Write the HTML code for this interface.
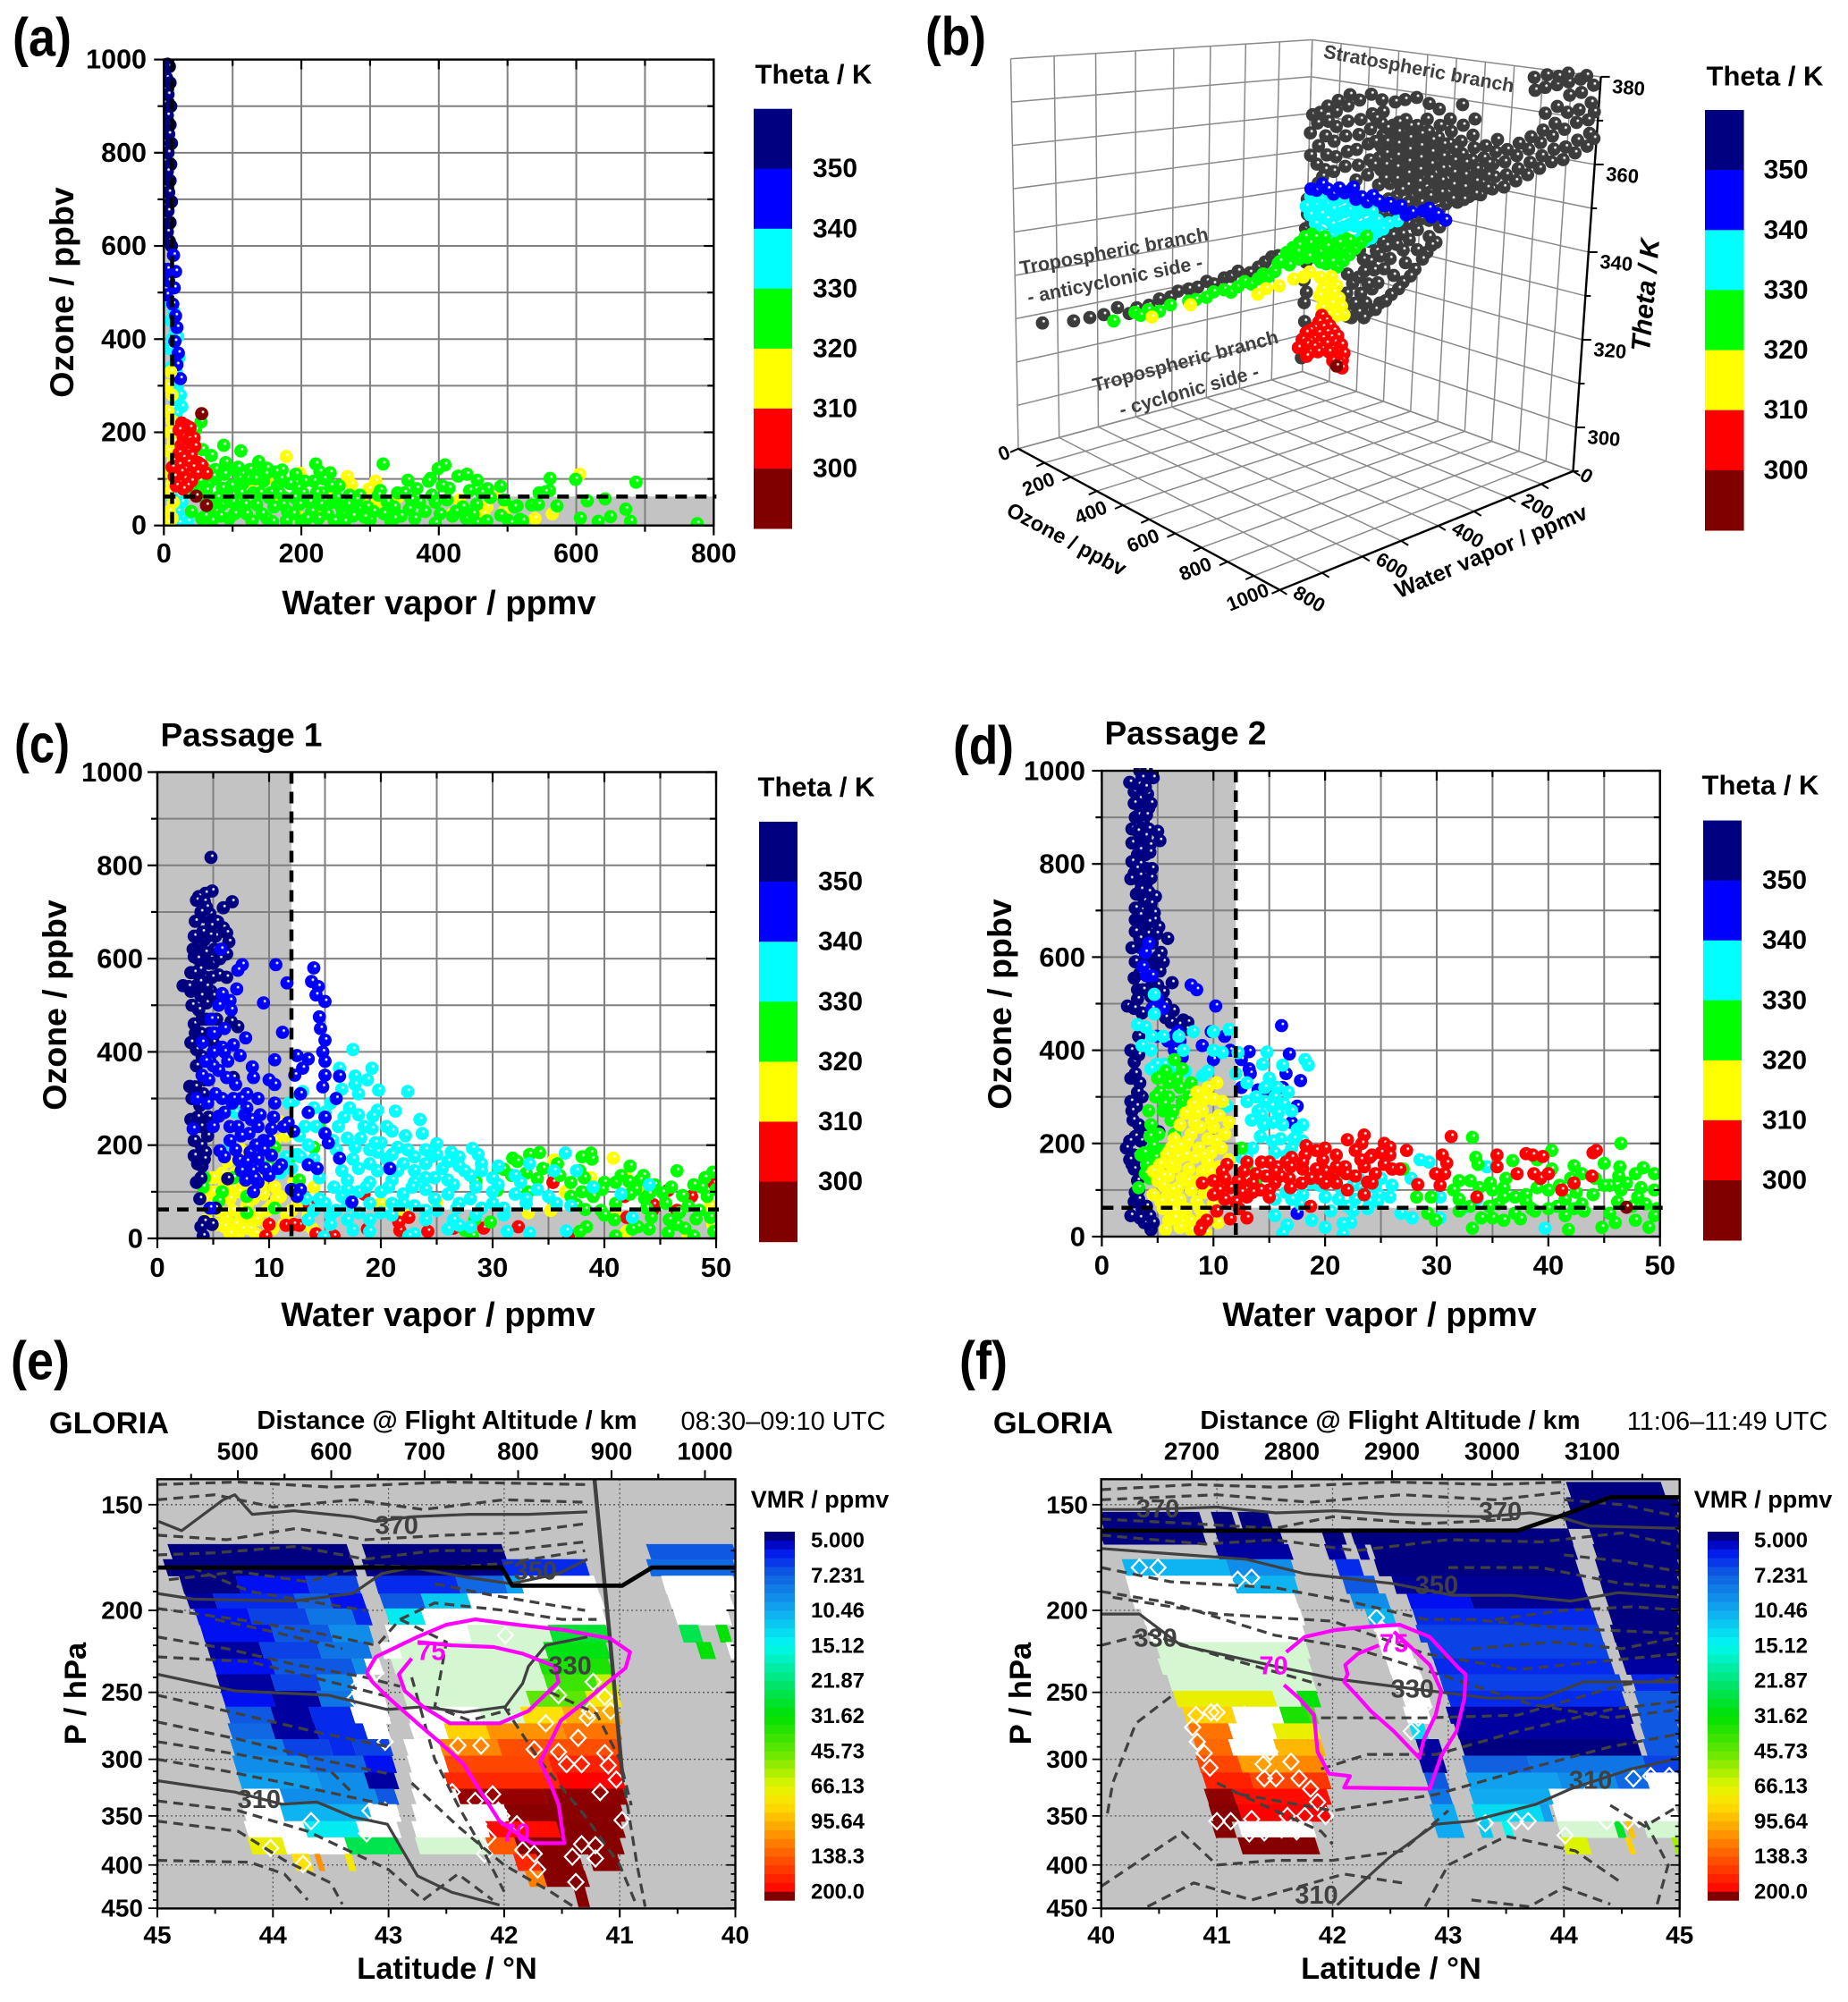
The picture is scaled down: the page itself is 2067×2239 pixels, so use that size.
<!DOCTYPE html>
<html lang="en">
<head>
<meta charset="utf-8">
<title>Ozone and water vapor tracer correlations and GLORIA cross sections</title>
<style>
html,body{margin:0;padding:0;background:#fff}
svg{display:block;font-family:"Liberation Sans",Arial,sans-serif}
text{fill:#000}
.b{font-weight:bold}
</style>
</head>
<body>
<svg id="figure" xmlns="http://www.w3.org/2000/svg" width="2067" height="2239" viewBox="0 0 2067 2239">
<defs id="defs"></defs>
<rect width="2067" height="2239" fill="#fff"/>
<g id="layers"></g>
<g text-anchor="middle" dominant-baseline="central">
<text class="b" x="47" y="42" font-size="60" textLength="66" lengthAdjust="spacingAndGlyphs">(a)</text>
<text class="b" x="1069" y="41" font-size="60" textLength="68" lengthAdjust="spacingAndGlyphs">(b)</text>
<text class="b" x="47" y="832" font-size="60" textLength="62" lengthAdjust="spacingAndGlyphs">(c)</text>
<text class="b" x="1100" y="834" font-size="60" textLength="68" lengthAdjust="spacingAndGlyphs">(d)</text>
<text class="b" x="45" y="1522" font-size="60" textLength="66" lengthAdjust="spacingAndGlyphs">(e)</text>
<text class="b" x="1100" y="1522" font-size="60" textLength="54" lengthAdjust="spacingAndGlyphs">(f)</text>

<text class="b" x="491" y="675" font-size="38">Water vapor / ppmv</text>
<text class="b" x="69" y="327" font-size="37.5" transform="rotate(-90 69 327)">Ozone / ppbv</text>
<text class="b" x="910" y="83" font-size="31">Theta / K</text>

<text class="b" x="1974" y="85" font-size="31">Theta / K</text>
<text class="b" font-style="italic" x="1841" y="330" font-size="30" transform="rotate(-85 1841 330)">Theta / K</text>
<text class="b" x="1193" y="603" font-size="23.5" transform="rotate(28 1193 603)">Ozone / ppbv</text>
<text class="b" x="1668" y="617" font-size="25" transform="rotate(-23 1668 617)">Water vapor / ppmv</text>
<text class="b" style="fill:#404040" x="1587" y="77" font-size="21.5" transform="rotate(10.4 1587 77)">Stratospheric branch</text>
<text class="b" style="fill:#404040" x="1246" y="281" font-size="21.5" transform="rotate(-10.4 1246 281)">Tropospheric branch</text>
<text class="b" style="fill:#404040" x="1247" y="313" font-size="21.5" transform="rotate(-11.5 1247 313)">- anticyclonic side -</text>
<text class="b" style="fill:#404040" x="1326" y="404" font-size="21.5" transform="rotate(-14.9 1326 404)">Tropospheric branch</text>
<text class="b" style="fill:#404040" x="1330" y="437" font-size="21.5" transform="rotate(-15.8 1330 437)">- cyclonic side -</text>

<text class="b" x="270" y="822" font-size="37">Passage 1</text>
<text class="b" x="490" y="1471" font-size="38">Water vapor / ppmv</text>
<text class="b" x="61" y="1124" font-size="37.5" transform="rotate(-90 61 1124)">Ozone / ppbv</text>
<text class="b" x="913" y="880" font-size="31">Theta / K</text>

<text class="b" x="1326" y="820" font-size="37">Passage 2</text>
<text class="b" x="1543" y="1471" font-size="38">Water vapor / ppmv</text>
<text class="b" x="1118" y="1123" font-size="37.5" transform="rotate(-90 1118 1123)">Ozone / ppbv</text>
<text class="b" x="1969" y="878" font-size="31">Theta / K</text>

<text class="b" x="122" y="1592" font-size="34.5">GLORIA</text>
<text class="b" x="500" y="1589" font-size="29">Distance @ Flight Altitude / km</text>
<text x="876" y="1590" font-size="29">08:30–09:10 UTC</text>
<text class="b" x="500" y="2202" font-size="34.5">Latitude / °N</text>
<text class="b" x="85" y="1894" font-size="34.5" transform="rotate(-90 85 1894)">P / hPa</text>
<text class="b" x="917" y="1677" font-size="27">VMR / ppmv</text>

<text class="b" x="1178" y="1592" font-size="34.5">GLORIA</text>
<text class="b" x="1555" y="1589" font-size="29">Distance @ Flight Altitude / km</text>
<text x="1932" y="1590" font-size="29">11:06–11:49 UTC</text>
<text class="b" x="1556" y="2202" font-size="34.5">Latitude / °N</text>
<text class="b" x="1142" y="1894" font-size="34.5" transform="rotate(-90 1142 1894)">P / hPa</text>
<text class="b" x="1972" y="1677" font-size="27">VMR / ppmv</text>
</g>
</svg>
<script>
/* ---------- shared category data ---------- */
const thetaColors=['#000080','#0000ff','#00ffff','#00ff00','#ffff00','#ff0000','#800000'];
const thetaLabels=[350,340,330,320,310,300];
const vmrLabels=['5.000','7.231','10.46','15.12','21.87','31.62','45.73','66.13','95.64','138.3','200.0'];
const cmapV=[4.5,5,5.5,7.2,10.5,15,21.9,31.6,45.7,66,80,96,138,200,205,300];
const cmapR=[0,0,0,16,16,0,0,0,96,225,255,255,255,255,160,128];
const cmapG=[0,0,16,96,170,250,230,225,230,245,225,180,90,0,0,0];
const cmapB=[128,160,240,224,240,240,120,0,0,0,0,0,0,0,0,0];

/* ---------- panel (a): pairs of water vapor, ozone ---------- */
const aTicksX=[0,200,400,600,800];
const aTicksY=[0,200,400,600,800,1000];
const aNavy=[5,990,8,985,4,960,9,950,6,925,10,900,5,880,9,860,7,840,11,820,6,800,10,775,5,760,9,740,7,715,11,695,6,675,9,650,5,630,8,610,11,600];
const aBlue=[14,580,5,550,17,545,7,525,15,510,4,495,13,475,17,450,19,425,16,395,21,370,19,345,24,315];
const aCyan=[8,480,14,460,10,440,17,420,12,400,20,405,8,380,16,370,22,360,11,340,18,330,20,300,24,280,16,270,26,255,18,240,12,60,26,50,20,30,28,15,35,8,16,20,22,5];
const aYellow=[10,330,5,300,12,280,6,245,12,225,8,200,14,180,6,160,14,140,7,115,12,90,7,70,14,50,8,30,12,15,6,5,178,148,198,112,267,105,273,88,308,95,298,78,605,110,133,80,150,100,232,22,195,20,310,50,290,45,480,70,430,55,470,40,465,25,420,25,540,15,565,25,340,60,160,45,240,70,495,30];
const aGreen=[87,172,112,160,319,132,409,130,399,122,221,132,227,115,242,113,138,137,150,123,172,119,56,163,69,150,54,222,46,205,355,97,368,79,388,101,428,106,441,110,456,97,471,79,490,84,562,101,599,99,687,93,642,57,616,53,672,35,650,19,679,9,776,4,632,9,606,16,572,42,561,75,546,70,535,44,514,42,518,13,501,11,490,22,475,60,455,45,440,15,415,80,405,85,395,50,380,30,360,55,345,20,340,70,330,10,320,25,300,12,285,35,270,65,255,85,245,50,230,70,215,30,205,95,190,60,180,30,165,85,160,40,145,95,130,70,120,25,110,100,100,50,90,135,85,80,75,120,75,30,65,90,60,55,55,15,45,70,40,30,70,10,95,15,125,120,135,45,170,100,150,15,200,10,225,15,260,25,285,65,315,75,335,40,365,15,385,95,420,20,435,40,445,75,470,10,495,55,510,40,545,45,555,72,522,10,505,5,455,5,395,5,75,100,100,120,115,90,140,110,155,70,175,60,195,80,210,55,110,35,85,45,60,20,50,100,52,95,58,125,62,75,68,40,72,105,78,60,82,20,88,110,92,60,98,85,103,25,108,125,112,70,118,45,122,100,128,10,133,100,140,70,143,25,148,110,153,60,158,8,163,115,168,70,173,45,178,10,183,90,188,25,192,110,197,45,202,70,208,15,212,50,218,95,222,70,228,45,233,100,238,25,243,85,248,10,252,60,258,40,263,8,268,45,275,20,280,55,292,18,296,40,305,30,312,65,325,50,335,15,350,70,357,35,372,50,390,65,402,25,412,55,425,30,450,25,462,70];
const aRed=[26,220,32,215,38,210,22,205,28,190,44,188,36,185,40,175,25,172,45,170,30,165,35,158,22,155,40,150,28,145,50,135,35,135,55,130,22,130,42,125,30,120,12,125,25,115,38,110,48,112,62,112,15,105,30,100,40,95,22,90,34,85,18,85,28,78];
const aMaroon=[55,240,47,63,62,43];

/* ---------- panel (b): ozone / water / theta samples ---------- */
const bOzoneTicks=[0,200,400,600,800,1000];
const bWaterTicks=[0,200,400,600,800];
const bThetaTicks=[300,320,340,360,380];
const bLowWater=8;
const bBranchOzone=60;
const bStratOzoneTheta=[15,349,12,355,18,360,38,347,42,352,36,358,44,361,68,346,72,350,66,355,74,359,70,363,98,346,104,350,96,354,102,358,100,362,106,365,138,348,144,352,136,356,142,360,140,364,146,367,178,345,184,349,176,353,182,357,186,361,180,366,218,347,224,351,216,355,222,359,226,363,220,368,258,345,264,349,256,352,262,355,266,358,260,361,264,364,258,367,298,346,304,349,296,352,302,355,306,358,300,361,304,367,338,345,344,348,336,351,342,354,346,357,340,360,344,363,338,368,378,344,384,347,376,350,382,353,386,356,380,359,384,362,378,369,418,344,424,347,416,349,422,352,426,355,420,358,424,361,418,364,422,368,458,345,464,348,456,351,462,354,466,357,460,360,464,363,458,367,498,344,504,347,496,350,502,353,506,356,500,359,504,362,498,365,538,345,544,348,536,351,542,354,546,357,540,360,544,364,538,369,578,347,584,350,576,353,582,356,586,359,580,362,584,366,618,348,624,351,616,354,622,357,626,360,658,350,664,353,656,356,662,359,666,362,698,351,704,354,696,357,702,360,738,353,744,356,736,359,742,362,778,355,784,358,776,361,782,364,786,375,780,378,818,357,824,360,816,363,822,366,826,370,820,376,824,379,858,359,864,362,856,365,862,368,866,372,860,377,864,379,898,360,904,363,896,367,902,371,906,375,900,378,896,380,938,362,944,365,936,369,942,372,946,376,940,379,978,364,984,367,976,370,982,374,986,378,960,380,995,372,1000,366,240,350,240,356,240,362,280,347,280,350.5,280,353.5,280,356.5,280,360,320,347.5,320,350.5,320,353.5,320,356.5,320,359.5,320,362,360,346.5,360,349.5,360,352.5,360,355.5,360,358.5,360,361.5,400,345.5,400,348,400,351,400,354,400,357,400,360,440,346,440,349.5,440,353,440,356,440,359,480,346.5,480,349.5,480,352.5,480,355.5,480,358.5,520,345.5,520,349,520,352,520,355,520,358,560,346,560,349,560,352,560,355,600,348,600,351,600,354,640,350,640,353,640,356];
const bLowerOzoneTheta=[150,312,170,310,190,313,210,316,180,318,200,320,230,314,250,318,220,322,240,325,270,320,290,324,260,328,280,331,310,327,330,331,300,335,320,338,350,334,370,337,345,340,390,341,410,343,180,309,160,315,205,311,235,319,255,323,275,327,295,330,315,333,335,336,355,330,375,333,395,337,415,339,430,342,440,345,10,333,20,336,5,329,15,326,25,331,10,320,5,315,15,312,8,309,12,304,5,299,4,294,30,339,45,342,60,344,8,337,165,309,160,320,165,326,200,327,205,333,240,312,245,332,280,315,285,340,320,318,325,323,322,343,360,322,365,327,362,342,400,326,405,331,402,336,440,331,445,335,442,339,470,334,480,338,475,342,500,340,265,313,300,316,345,320,385,324,425,329,455,333,225,310,215,325,235,330,255,335,275,338,295,342,340,345];
const bBranchWaterTheta=[775,320,700,319,660,319,625,319,590,320,560,318,540,319,508,319,480,320,450,320,430,321,400,321,375,321,350,322,330,321,300,322,280,322,260,323,225,322,200,323,180,324,160,325,140,325,108,325,90,326,70,327,50,327,30,328,8,329];
const bBlueOzoneTheta=[20,340,40,340,60,342,80,341,100,340,120,342,140,341,160,342,180,340,200,341,220,340,240,342,260,341,280,340,300,341,320,340,340,341,360,339,380,340,420,341,450,340,470,341,500,340,440,342,170,343];
const bCyanOzoneTheta=[5,335,20,333,40,331,60,329,80,328,100,329,120,327,140,328,160,328,180,329,200,330,220,330,240,331,260,333,280,334,300,336,330,337,20,338,40,336,60,334,80,333,100,332,120,331,140,332,160,333,180,333,200,333,220,334,240,335,260,336,40,339,60,338,80,337,100,336,120,335,140,336,160,337,180,336,200,337,220,338,240,338,80,340,100,339,120,339,140,340,160,340,180,339,60,341,200,340];
const bGreenSamples=[60,600,317,60,545,318,60,530,317,60,510,318,60,480,317,60,450,318,60,400,318,60,380,318,60,350,318,60,330,319,60,300,319,60,280,318,60,260,319,60,240,320,60,220,319,60,200,320,60,185,321,60,170,320,60,150,321,60,140,323,60,120,323,60,105,322,60,90,324,60,75,323,60,60,325,60,50,323,60,40,326,60,25,324,60,15,326,80,5,321,100,5,322,120,5,321,140,5,323,160,5,325,180,5,327,60,5,321,40,5,322,20,5,324,10,10,326,30,10,328,50,5,326,70,5,328,90,5,325,110,5,327,130,5,328,150,5,329,200,5,329,220,5,331,100,20,324,80,25,326,60,25,328,40,25,326,40,40,328,20,40,326,20,60,325,40,60,326,20,80,324,40,80,325,60,80,325,20,100,322,110,5,325,75,5,324,135,5,326,55,40,323,95,40,325,120,40,327,140,20,328,165,10,329];
const bYellowSamples=[60,500,316,60,395,317,60,200,316,60,175,317,60,135,317,60,90,318,60,60,318,60,40,319,60,5,317,80,5,316,100,5,318,120,5,316,70,5,314,90,5,313,110,5,314,130,5,313,60,5,312,85,5,310,105,5,311,125,5,310,140,5,311,70,5,309,150,5,309,95,5,308,120,5,308];
const bRedSamples=[70,5,307,85,5,306,60,5,305,100,5,305,75,5,304,115,5,304,45,5,303,90,5,303,130,5,303,30,5,302,60,5,302,105,5,302,15,5,301,45,5,300,75,5,301,120,5,301,145,5,301,8,10,299,30,5,299,60,5,299,90,5,300,110,5,299,135,5,299,155,5,299,5,20,297,20,5,298,45,5,298,75,5,298,100,5,298,130,5,297,150,5,297,30,5,296,60,5,297,115,5,296,140,5,296,25,10,295,150,5,295];
const bMaroonSamples=[130,5,295];

/* ---------- panel (c) ---------- */
const wvTicksX=[0,10,20,30,40,50];
const cNavy=[4.8,817,4.9,745,4.3,740,3.7,733,3.5,725,6.7,722,5.9,709,4.7,696,4.2,690,4.2,722,3.4,680,5.4,679,5.9,666,6.2,655,3.3,648,4.05,657,5.2,648,6.4,636,3.3,604,4.3,613,5.8,620,6.2,610,3,570,3.8,577,4.6,590,5.5,565,2.3,542,3,530,3.5,542,4.3,560,4.8,530,6.2,560,3.1,500,3.7,490,4.4,505,5,520,3.3,460,4,470,5.3,470,7.2,454,6.6,465,4.7,440,5,420,3.5,405,6.8,345,2.9,326,3.4,325,4.1,310,3.8,285,3,255,3.9,240,4.5,220,3.9,200,3.3,177,4.3,185,3.6,160,4,155,3.5,120,6.3,128,3.8,85,5.2,65,4.2,36,3.9,25,4.9,30,4.1,5,3.2,620,3.7,630,4.2,640,4.7,650,5.1,620,5,590,4.4,540,3.9,520,3.3,570,3.6,600,2.8,540,3.8,550,4.9,560,5.6,600,5.3,680,4.8,670,4.4,710,3.9,700,3.4,440,3.9,440,4.4,470,3,420,3.5,370,4,390,3.1,300,3.6,260,3.3,210,4.2,170,3.9,130,4.6,260,4.2,340,4.7,380,5.2,440];
const cBlue=[10.6,587,14,580,11.6,548,13.8,551,14.4,540,14.2,522,15,508,9.5,505,7.6,587,7.2,575,5.7,620,5.8,525,7.1,535,6.6,490,14.5,475,14.6,450,11.2,442,15,425,7.9,430,14.8,400,10.5,383,12.5,392,13.5,385,15,380,13,365,15,350,16.3,348,12.3,350,8.5,368,8.6,345,10,340,10.5,330,14.8,325,16,300,7.4,392,5,400,4,420,6.8,415,5.5,360,4.6,340,7,330,9,300,8,310,10.5,290,7.8,265,3.2,235,5.5,262,6.5,240,8.2,225,9,240,10.2,235,15,260,13.5,270,12.8,310,9.5,210,6.5,210,7,190,5.6,188,7.3,168,8.3,185,9,170,10.2,178,8.5,145,7.9,125,9,120,8.6,100,10,135,11.1,158,13.5,158,14.3,150,16.3,172,20.8,150,15.3,205,15,225,12.8,105,12,105,12.5,90,17.4,78,4.7,65,11.7,248,12.2,230,3.5,300,4,350,4.5,290,5,240,5.2,310,5.8,300,6,270,6.2,345,6.7,290,7.2,240,7.5,300,8,280,8.4,255,8.8,200,9.2,265,9.6,150,10,210,10.4,260,10.8,150,11.3,240,4.3,380,5,370,5.8,410,6.3,380,6.8,300,7.5,220,6,450,6.5,510,5.5,500,5,440,6,400,4.8,470,8,165,9.5,190,7.5,145,8.7,130,6,175];
const cCyan=[17.5,405,16.3,365,17.7,348,19.2,365,18.8,340,17.7,330,22.4,315,19.8,318,18,310,16.5,320,13,315,12.2,295,11.8,290,15.5,290,17.2,280,14,280,15,270,18,265,19.7,275,21.3,273,19.3,262,23.5,255,18.5,240,19.2,235,21,230,22.2,220,23.7,225,20,205,21.5,195,25,203,22.4,190,26.3,185,28.2,193,28.7,180,24.5,175,27,175,19,190,17,215,16.2,240,16,190,17.5,170,19,160,20.5,170,22,160,24,160,25.5,150,27,155,29,160,30.5,155,33.3,160,36.5,183,35.5,145,37.5,145,32,135,30,130,28,135,26,125,24,130,23,120,21,125,19,120,17,125,15.8,110,16.5,90,18,100,20,100,22,95,24,105,26,95,28,85,30,100,32,95,34,105,35,90,33,75,30,75,27,75,25,60,23,70,21,75,19,75,17,70,15,75,14,60,15.5,50,17,40,19,40,21,50,24,60,26.5,40,28.5,50,31,50,33.3,12,36.6,16,37,70,39,110,41.5,95,42.5,45,44,115,31.3,15,27,28,23,10,22.5,5,19,15,17.5,18,15.5,30,14.9,3,12.5,180,12,150,11,140,12.7,220,11.5,175,14.5,130,13.3,85,8,280,7,270,6.5,200,14.2,240,15.7,210,16.7,260,18.2,215,19.5,205,20.5,240,17.7,195,19.7,185,21,180,23,175,24,190,25,180,26,165,27.5,145,29,145,18,150,19.7,145,21.5,145,23,145,24.8,130,26.5,115,28.5,110,30.5,115,32.5,120,16.5,145,17,105,18.7,110,20.7,110,22.8,110,24.8,85,26.8,65,29,65,31,65,33,85,35.7,75,18,55,20,55,22,75,24,40,26,20,28,25,13.5,40,14.5,85,16,60,13.2,240,12.8,175,13.5,200,14,170];
const cGreen=[34.2,184,33.3,180,31.8,172,32.2,165,35.8,160,38.8,183,38,175,38.9,170,30.5,152,31,148,34,128,31.7,135,28.5,122,38.2,130,37.8,145,37,120,38,100,39,90,33.2,100,30.4,103,42.3,155,46.5,145,49.7,142,49,130,48.7,110,50,105,40,120,41,120,42.2,122,43.5,135,43.2,125,42.8,105,42.3,95,43.6,85,45.2,98,47,92,43.8,65,46.7,55,45.8,40,44.2,45,48.2,42,49.5,45,47.2,22,43,25,42.5,20,45.7,12,48,5,49.8,15,41,5,40.9,40,39.7,60,38.3,62,37.5,72,38.4,25,37.8,15,27.5,18,28.4,40,29.8,35,28.2,5,12.7,125,12,175,14,195,14.5,240,10.5,195,10,155,6.8,130,7.5,160,8,90,8,55,5.5,80,4.2,130,4.1,110,5.8,100,10.5,65,33,140,34.5,150,36,135,37,90,39.8,105,41.5,135,44.5,115,45.5,75,47.5,70,48.5,60,49.2,90,46,110,44,95,41,75,40,50,48,115,46.5,30,44,20];
const cYellow=[40.8,172,35.5,168,42,130,43,110,38.8,130,36.5,100,35.2,60,33.2,55,44.3,110,41,60,42,15,49.5,70,49.7,30,47.5,5,25,78,22,60,20,75,4.5,90,5,130,5.5,60,6,115,6.2,45,6.5,85,7,140,7,30,7.2,5,7.8,110,8,70,8.3,20,9,130,9,50,9.5,95,9.5,5,10.2,70,10.5,110,11,90,11.3,30,12,60,12.2,120,13,90,13.2,30,14,110,6,25,7.5,50,8.8,10,4.7,75,6.3,165,11,250,4.4,40,5,100,5.3,30,5.8,140,6.5,10,6.7,60,7.3,100,7.6,20,8.2,140,8.6,85,8.9,40,9.3,115,9.8,60,10.3,20,10.7,85,11,150,11.6,50,12.6,80,13.5,50,13.9,20,6,175,7.5,190,9,170,10.5,210,11.5,220,8,40,6.8,110,9.9,30];
const cRed=[45.7,103,47.8,90,46.5,60,44.3,60,44.4,72,42,45,41.8,90,35.4,120,32.3,25,29.2,22,26.5,22,24.2,15,21.7,17,22.5,45,21.6,35,18.8,20,15.8,5,14.2,10,12.7,28,11.5,28,12.2,30,10,30,9.7,5,13.6,70,18.5,95,49.8,118,36.8,8];

/* ---------- panel (d) ---------- */
const dNavy=[3.4,1000,4,1000,2.5,975,3.6,985,4.6,985,2.9,955,3.4,940,4.1,950,2.9,930,3.6,915,4.2,920,3,900,3.7,890,2.7,875,3.2,870,4.2,875,5,870,2.7,845,3.5,850,4.3,840,5.2,850,3.2,820,3.9,820,4.3,825,2.7,805,3.4,800,2.9,780,4,790,4.5,790,2.6,768,3.5,760,4,760,3.1,735,4.2,740,4.8,730,3.8,720,3,705,4.3,700,4.7,695,3,680,3.7,670,4.7,680,3,655,4.1,650,5.1,665,3.4,640,5.9,640,2.7,620,4.5,630,5.3,610,3,590,3.9,600,4.6,590,5.5,590,2.9,555,3.4,565,5.2,570,3.2,530,4.5,540,6.3,545,3.2,510,5.5,525,2.3,495,2.9,490,5.7,500,5.7,470,6.2,460,7.3,465,7.7,460,7.6,445,2.6,400,2.9,375,3.3,390,2.6,340,3,340,3.4,330,2.6,290,3.6,300,3.1,280,2.7,270,3.3,240,3.8,220,3,215,2.5,205,2.2,190,2.9,175,2.7,155,2.9,145,3.2,120,3,95,2.9,75,3.6,60,2.6,45,3.8,30,4.4,15,4.3,45,3.3,100,3.5,160,5.1,225,3.3,970,3.9,965,4.4,930,3.3,905,4,905,3.4,830,3.9,860,3.1,790,3.8,775,3.4,775,3.5,745,4.4,770,4.4,715,3.4,690,4.2,675,3.5,620,4,630,4.9,650,5,600,5,540,4.1,570,3.7,530,4.4,515,5,500,3.6,480,6.4,485,6.9,455,3.3,430,3,350,3.2,310,2.8,250,3.5,205,2.5,165,3.3,80,3.4,40,4,65,4.6,30];
const dBlue=[10.2,495,16.1,453,8,540,8.5,530,5,510,5.5,490,4.5,490,4,560,3.7,580,4.5,560,4.2,630,3.9,610,6.5,430,7,420,9,410,9.8,440,11,430,11.5,400,10,380,12.5,380,13.2,397,13.2,360,13.3,350,16.8,392,16.5,350,16.2,320,17.8,335,12.5,320,14,315,15,300,17.5,280,17,245,6.8,440,6.5,400,5.9,420,7.2,385,6.8,370,4.9,430,17.5,50];
const dCyan=[4.7,520,4.7,478,3.2,455,3.9,450,4.5,430,5.5,430,6.9,430,7.3,400,8.2,440,10,440,11.4,445,3.6,410,4.4,400,5.6,370,4.9,370,4.4,360,5.5,345,6.5,360,7.5,355,9,345,10,400,10.8,395,9.5,355,12.2,395,14.8,396,14.4,370,16.2,368,18.2,380,18.5,368,12,350,13,330,14.6,320,15,340,15.5,300,13,290,14,270,15.2,280,16.7,310,15.8,265,13.4,250,14.5,240,16.2,240,16,210,17.5,230,18,205,18,240,17,190,15.5,180,13.5,190,13,170,15,160,20,140,21,150,22,135,23,125,24.5,105,25,125,26,110,25.8,85,24,75,22.7,80,21.5,100,19.5,110,18,90,17,80,15.5,80,20,85,20.5,55,18.8,35,16.6,25,15.5,45,22.5,55,22.3,30,21.6,28,21.6,5,20,20,16.2,7,23.8,60,26.8,50,27.8,40,28.5,165,29.3,160,27.7,125,30.3,85,30.3,40,32.3,60,33.6,80,34.5,150,39.7,18,11.2,280,12.5,170,13.8,300,14.6,290,15.7,320,16.3,285,17,270,14.3,260,15.3,245,17.2,210,16.6,175,15.3,205,14.2,215,19,120,21,125,22.5,110,23.5,95,24.8,90,21.2,80,18.7,115,17.8,70,16.5,95,22,65,24.7,75];
const dGreen=[33.2,213,46.5,200,40.3,185,33.5,170,33.7,155,36.8,163,39,165,45,157,46.4,150,48.5,148,49.5,135,47.8,135,46.3,130,40.3,145,42.3,152,43,135,42,125,32,120,33,120,33.8,105,34.8,115,36.2,125,36,105,31.5,100,32,80,28.2,85,29.5,85,29.2,50,29.9,35,33.2,18,32,55,34.7,65,35.5,70,37,85,38,90,39,105,40,100,41,110,42.5,95,44,90,45.5,110,46.5,100,48,85,49.5,100,49.7,60,48.7,70,46.2,75,45,110,43,70,41.5,80,40,60,38.5,60,37,50,36,35,35,40,34,40,37.5,38,38.8,55,41.5,45,43.2,55,44.8,20,46,30,47.8,35,49.5,45,49,20,41.8,15,27,145,13,150,13.8,115,12.5,190,5.7,355,6.5,380,7.2,360,6,330,7,320,8,330,8.5,290,5,340,5.2,310,6,300,7.2,290,4.2,270,5.5,270,6.2,250,7.5,275,4.4,240,5.1,220,6.5,220,3.5,175,4,155,4.6,195,5.3,165,3.3,105,4.3,125,5,140,5.5,185,4.8,300,5.6,285,6.7,340,6.4,270,7.8,300,3.8,180,4.3,215,4.8,170,3.9,135,44.2,125,47,115,48.3,105,47.5,65,45.5,50,40.8,65,38,75,36,85,35,100,33,65,42.3,60];
const dYellow=[10.3,330,9.5,320,8.5,310,10.8,290,9.2,295,8.2,285,7.5,265,9,270,10.5,260,11.4,245,8.3,245,7,240,10,235,11,220,6.5,210,8,220,9.5,210,10.7,190,6.2,190,7.4,195,8.7,190,9.8,180,5.8,175,7,170,8.3,170,9.5,160,10.5,150,5.2,155,6.6,150,7.8,145,9,140,4.6,140,6,130,7.2,125,8.5,120,10,115,5.5,110,6.8,105,8,100,9.2,95,4.6,90,5.8,85,7,80,8.5,75,10,70,5.5,60,6.5,55,7.5,50,9,50,6,35,7.2,30,5.7,15,8.2,25,9.3,8,10.4,30,9,35,11,110,6.2,75,7,20,6.2,155,7.5,175,9.1,175,10.2,205,8.8,235,7.7,205,9.8,250,8.5,265,10,295,7,195,5.5,130,6.3,100,7.5,60,8.8,60,9.8,95,10.7,120,5,120,7.7,120,6.5,40,8,15,9.7,140,7.9,35,6.7,170,5.3,75,11.4,165];
const dRed=[31.3,215,23.5,218,22,208,23.3,200,25.3,200,25.8,192,24.2,175,25,180,25.8,175,27.3,185,30.5,175,30.9,158,35.4,175,38,178,38.6,175,39.5,172,44,180,44.3,185,25.3,155,26,145,26.7,145,24.5,135,23.5,150,23.2,165,24,170,21.8,150,21.9,135,20.8,135,20,140,19.2,145,18,145,18.2,175,18.3,195,19.2,185,20,190,18,160,17,170,16.5,160,15.7,150,15,160,14.3,160,13,160,12.7,140,11.2,155,13.8,135,12.5,115,14.2,100,15,100,15.5,115,16,130,16.8,125,16.9,105,17.9,115,19.5,125,20,115,21,115,22,100,23.8,117,24.2,115,23.5,90,29.9,135,30.7,135,30.3,110,28.3,112,33.6,85,35.4,150,37.2,135,38.7,135,39.3,125,40,135,41.2,100,42.3,115,43.9,130,9,115,10,120,10.5,100,11,80,10.8,140,11.5,105,12,75,13,85,13.5,95,12.3,60,10.3,55,11.5,38,13,40,9,25,8.8,15,9.4,35,18.7,65,15,85,19.8,165,21,175,22.7,185,21,150,22.7,130,18.7,125,16.9,150,14.7,130,13.5,115,12.2,120,15.5,140,11,125,12.5,95,10,90];
const dMaroon=[47,63];

/* ---------- panels (e), (f): curtains. Each row = lat, vmr, lat, vmr ... lat, 0; -1 flagged white, -2 flagged pale, 0 no data ---------- */
const pTicks=[150,200,250,300,350,400,450];
const eLatTicks=[45,44,43,42,41,40];
const fLatTicks=[40,41,42,43,44,45];
const eKmTicks=[500,600,700,800,900,1000];
const fKmTicks=[2700,2800,2900,3000,3100];
const eLevels=[167,174,182,191,199,208,218,228,238,249,260,272,284,297,311,325,339,355,371,388,406,424,448];
const eRows=[
[44.89,4.5,43.34,0,43.21,4.5,42,0,40.75,7,40,0],
[44.93,4.5,43.29,0,43.21,4.5,42,6,41.28,0,40.75,7.5,40,0],
[44.79,4.5,44.3,5.5,43.7,6.5,43.26,0,43.11,6,42.4,7.5,41.99,10,41.85,-1,41.2,0,40.62,-1,40,0],
[44.74,5,44.5,6,43.8,7.2,43.5,5.5,43.21,0,43.06,7,42.7,12,42.3,-1,41.15,0,40.57,-1,40.03,0],
[44.66,5.5,44.2,6.5,43.7,8,43.3,6,43.16,0,43.01,14,42.7,-1,41.13,0,40.52,-1,40.05,0],
[44.61,5.5,44,7,43.5,9,43.15,0,43.01,-1,42.3,-2,41.6,27,41.1,0,40.47,25,40.3,0,40.15,31,40.05,0],
[44.56,5,44.1,6.5,43.6,8,43.16,0,43.06,-1,42.9,-2,41.64,30,41.1,0,40.32,31,40.19,0,40.06,-1,40,0],
[44.51,5.5,44,7,43.3,9,43.19,-1,43.06,0,42.96,-2,41.69,35,41.08,0],
[44.47,5,44,6.5,43.6,8.5,43.3,-1,43.1,0,42.9,-2,41.64,40,41.2,60,41.03,0],
[44.43,5.5,44,5,43.6,8,43.3,-1,43.03,0,42.86,-2,41.79,45,41.28,75,41,0],
[44.39,7,44,5,43.67,6,43.31,-1,43,0,42.83,-1,42.2,-2,41.84,80,41.48,100,41,0],
[44.37,7.5,44,5,43.62,6,43.2,-1,43,0,42.8,-1,42.5,85,42.14,110,41.48,125,41,0],
[44.35,8.5,43.9,6.5,43.5,6,43.3,6.5,42.98,0,42.85,-1,42.55,115,42.04,145,41,0],
[44.33,9,43.7,7.5,43.2,5.5,42.95,0,42.82,-1,42.5,150,41.6,175,41,0],
[44.29,10,43.6,9,43.19,5,42.93,0,42.8,-1,42.5,170,41.53,200,40.97,0],
[44.23,-1,43.92,9,43.1,7,42.93,0,42.78,-1,42.4,230,41.64,260,40.95,0],
[44.25,-1,43.92,11,43.16,-1,42.91,0,42.78,-1,41.98,270,40.97,0],
[44.23,-1,43.72,14,43.26,-1,42.91,0,42.78,-1,42.14,190,41.53,280,40.97,0],
[44.2,70,43.9,-1,43.36,25,42.9,0,42.75,-2,42.14,140,41.89,280,40.98,0],
[43.82,80,43.67,0,43.62,110,43.57,0,43.36,75,43.3,0,41.9,170,41.7,280,41.33,0,41.25,280,41,0],
[41.8,120,41.65,280,41.28,0],
[41.38,280,41.28,0]
];
const fLevels=[141,147,153,160,167,174,182,191,199,208,218,228,238,249,260,272,284,297,311,325,339,355,371,388];
const fRows=[
[44.04,4.5,44.86,0],
[44.04,4.5,45,0],
[40,4.5,40.87,0,40.97,4.5,41.15,0,41.2,4.5,41.46,0,44.01,4.5,45,0],
[40,4.5,40.89,0,41,4.5,41.56,0,41.92,4.5,42.1,0,42.17,4.5,44.06,0,44.24,4.5,45,0],
[41,5,41.64,0,41.95,5,42.1,0,42.22,5,42.3,0,42.35,4.5,44.1,0,44.27,4.5,45,0],
[40.2,11,41.1,9,41.66,0,42.04,6,42.25,0,42.38,4.5,44.12,0,44.29,4.5,45,0],
[40.23,-1,41.15,11,41.69,0,42.1,7,42.38,0,42.53,4.8,44.17,0,44.32,4.5,45,0],
[40.27,-1,41.69,0,42.17,9,42.48,0,42.66,5.5,43.2,4.8,44.22,0,44.37,4.5,45,0],
[40.36,-1,41.74,0,42.3,11,42.53,0,42.71,6,44.27,0,44.4,4.5,45,0],
[40.41,-1,41.76,0,42.38,-1,42.58,0,42.74,6.5,44.32,0,44.42,4.5,45,0],
[40.49,-2,41.79,0,42.42,-1,42.68,0,42.84,6.5,44.37,0,44.47,4.5,45,0],
[40.51,-2,41.81,0,42.48,-1,42.74,0,42.89,6,44.42,0,44.52,5,45,0],
[40.59,-2,41.84,0,42.53,-1,42.79,0,42.94,6.5,44.5,0,44.6,6,45,0],
[40.64,70,41.5,-2,41.71,31,41.88,0,42.61,-1,42.84,0,43,6,44.52,0,44.63,7,45,0],
[40.72,85,41.15,-1,41.56,35,41.79,40,41.86,0,42.63,-1,42.84,0,43,5,44.58,0,44.65,7,45,0],
[40.77,125,41.12,-1,41.5,70,41.88,0,42.68,13,42.81,0,43.07,5,44.6,0,44.68,7,45,0],
[40.82,130,41.12,-1,41.51,95,41.92,0,42.74,5,42.94,0,43.12,4.5,44.65,0,44.7,7,45,0],
[40.84,150,41.2,105,41.61,115,41.94,0,42.76,5,42.97,0,43.14,7.2,43.7,8,44.7,6.5,45,0],
[40.89,175,41.3,150,41.71,160,41.97,0,42.81,7,42.99,0,43.17,10,43.96,9,44.45,7.5,44.72,-1,45,0],
[40.91,250,41.15,190,41.97,0,42.84,8,43.02,0,43.2,10.5,43.89,-1,45,0],
[40.95,280,41.2,200,41.97,0,42.86,10.5,43.07,0,43.22,13,43.81,10,43.89,0,43.92,-1,44.98,0],
[40.97,280,41.15,0,41.2,-1,41.84,0,42.89,10.5,43.12,0,43.27,12,43.37,0,43.48,15,43.55,0,43.96,-2,44.45,28,44.52,0,44.55,90,44.6,0,44.7,-2,45,0],
[41.2,280,41.87,0,44,65,44.22,0,44.55,85,44.6,0,44.95,55,45,0]
];
const eDiamonds=[41.74,292,41.64,272,41.53,294,41.46,304,41.33,304,41.36,283,41.28,268,41.26,263,41.08,263,41.13,253,41.23,243,41.13,295,41.1,305,41.03,317,41.17,328,40.98,354,41.21,379,41.33,378,41.41,391,41.21,393,41.38,419,41.74,388,41.71,405,41.84,384,41.89,358,42.02,350,42.25,336,42.3,349,42.22,358,42.14,371,42.17,388,42.45,328,42.5,336,42.2,289,42.4,289,43.03,286,43.06,268,43.26,246,43.29,254,43.11,237,41.99,214,41.53,252,43.19,367,43.16,345,43.03,345,43.74,399,44.02,382,43.67,355,42.3,360,42.1,330,42.05,345];
const fDiamonds=[42.38,204,42.43,211,42.63,246,42.68,278,42.74,268,42.79,260,40.82,266,41,264,40.95,264,40.79,275,40.83,286,40.89,295,40.94,307,41.4,304,41.51,316,41.41,316,41.64,302,41.71,316,41.81,325,41.87,337,41.3,353,41,355,41.12,355,41.28,367,41.41,366,41.56,363,41.69,365,41.76,350,41.94,350,41.61,350,41.46,294,41.24,266,41.3,183,41.18,184,40.33,178,40.49,178,43.32,357,43.58,355,43.69,355,44.01,369,44.37,355,44.55,355,44.65,353,44.6,316,44.75,314,44.91,314,44.22,328];
const eTropopause=[45,178,42.02,178,41.93,187,40.98,187,40.72,178,40,178];
const fTropopause=[40,161,43.6,161,44.01,154,44.4,147,45,147];
const eFlightEdge=[41.23,135,41.08,220,40.98,311];
const eFlightEdgeLower=[40.98,311,40.85,400,40.78,448];
const eContour70=[43.19,237,43.11,227,42.75,215,42.5,208,42.25,205,41.89,208,41.48,211,41.08,216,40.91,224,40.95,234,41.1,243,41.28,255,41.51,270,41.61,288,41.69,302,41.61,318,41.53,339,41.48,377,41.76,377,41.89,367,42.04,355,42.2,328,42.35,304,42.55,287,42.75,272,43.01,253,43.14,243,43.19,237];
const eContour75=[42.8,228,42.91,238,42.86,249,42.7,260,42.47,272,42.04,272,41.79,263,41.53,243,41.56,233,41.84,225,42.09,221,42.45,220,42.75,218];
const fContour70=[41.6,224,41.76,215,42.02,211,42.33,209,42.58,208,42.84,215,43.09,234,43.15,238,43.14,254,43.07,278,42.94,297,42.84,325,42.1,324,42.15,314,41.97,312,41.87,294,41.84,266,41.71,254,41.58,245];
const fContour75=[42.4,220,42.22,225,42.11,232,42.13,238,42.1,243,42.22,253,42.33,263,42.53,278,42.75,299,42.79,284,42.89,266,42.94,249,42.84,232,42.66,220,42.53,212];
const eSolid370=[44.99,157,44.79,161,44.43,148,44.33,146,44.18,154,43.82,152.5,43.31,155,43.11,157,42.8,155,42.3,154,41.79,154,41.28,153];
const eSolid350=[45,191,44.68,194,43.82,195,43.31,191,43.06,181,42.8,178,42.3,183,41.94,186,41.53,181,41.28,174];
const eSolid330=[45,238,44.33,249,43.52,252,43.01,262,42.7,260,42.35,264,41.99,260,41.84,244,41.79,233,41.64,220,41.28,215];
const eSolid310=[45,318,44.33,328,43.92,339,43.62,337,43.31,351,43.01,358,42.75,412,42.45,431,42.04,446];
const fSolid370=[40,152,40.38,152,41,151,41.51,153.4,42.02,152.5,42.53,154,43.3,155,43.71,153.4,43.96,155,44.22,159,45,160];
const fSolid350=[40,169,40.49,171,41.25,174,41.76,181,42.53,186,43.04,192,43.55,192,44.06,195,44.47,190.6,45,193];
const fSolid330=[40,202,40.33,202,40.69,220,41.51,233,42.02,241,42.53,246,43.35,254,43.81,254,44.17,243,45,243];
const fSolid310=[42.04,446,42.48,393,42.89,358,43.2,355,43.76,339,44.06,325,44.58,308,45,299];
const eDashed=[
[45,142,44.3,141,43.5,143,42.5,141,41.3,142],
[45,148,44.5,146,44,151,43.3,148,42.7,152,42,148,41.3,149],
[45,163,44.4,165,43.8,160,43.2,165,42.5,163,41.9,162,41.3,158],
[45,172,44.5,171,43.8,168,43.2,174,42.6,170,42,170,41.3,166],
[44.9,184,44.3,180,43.7,185,43.2,177,42.5,178,42,176,41.3,170],
[45,199,44.2,206,43.6,213,43.1,220,42.9,205,42.6,196,42,200,41.5,205,41.2,205],
[45,215,44.4,222,43.8,232,43.2,240,42.9,246],
[45,227,44.2,230,43.5,243,43,253],
[45,252,44.3,265,43.6,279,43,290],
[45,271,44.3,284,43.6,300,43,312],
[45,286,44.3,296,43.5,310,43.3,330],
[45,300,44.4,310,43.8,322,43,340],
[45,336,44.3,345,43.7,365,43,405,42.7,440],
[45,355,44.3,365,43.9,395,43.5,420,43.4,445],
[45,395,44.2,397,43.9,410,43.7,440],
[42.8,240,42.6,300,42.4,340,42.2,380,42,430],
[42.8,320,42.4,360,42,400,41.6,430,41.4,448],
[42,260,41.7,300,41.3,350,41,400,40.85,448],
[42.9,205,42.5,218,42.6,260,42.3,270,41.95,262],
[41.6,250,41.2,265,41,300,40.9,340],
[44.7,178,44.2,190,43.6,196,43.2,200],
[44.5,205,44,212,43.4,222],
[42.6,186,42.1,192,41.6,197,41.3,200],
[42.7,440,42.4,410,42.1,440]
];
const fDashed=[
[40,144,40.8,142,41.5,143,42.5,141,43.4,142,44,141],
[40,148,41,146,41.8,149,42.6,146,43.4,148,44,145],
[40,156,40.8,158,41.5,160,42,155,42.8,158,43.6,156],
[40,163,40.9,167,41.5,165,42.2,170,43,165,43.8,166,44.5,162,45,168],
[44,148,44.5,150,45,155],
[44,172,44.5,175,45,180],
[43,178,43.8,178,44.5,186,45,188],
[40,178,40.6,185,41.5,188,42.2,196,42.8,205,43.2,205,44,210,45,213],
[40.1,193,41,202,42,206,42.8,225,43.6,235,45,225],
[40,190,40.6,196,41.5,214,42.2,222,43,240,43.7,258,44.4,268,45,262],
[40,220,40.4,213,41,226,41.9,245],
[40.6,253,40.3,272,40.1,320,40.05,350],
[41.9,268,42.8,268,43.6,266,44.5,245,45,240],
[41.9,308,42.3,296,42.9,296,43.6,278,44.4,262,45,256],
[41,320,41.4,340,41.9,365,42,378],
[41.2,330,42,345,42.9,330,43.6,310,44.4,290,45,280],
[40,424,40.7,366,41,400,41.5,395,42,395,42.6,385,43,345],
[40.4,448,40.8,420,41.3,440,42.1,410,42.6,420],
[42.8,448,43,400,43.5,370,44.1,385,44.5,420],
[43.2,440,43.7,448,44,425,44.4,445],
[44.7,355,44.9,400,44.8,448],
[44.4,340,44.7,360,45,340],
[43.4,205,44,200,44.6,198,45,200],
[43.2,222,43.9,218,44.5,222,45,215]
];
const eIsoText=['370','350','330','310'];
const eIsoLat=[42.93,41.73,41.43,44.12];
const eIsoP=[159,180,233,335];
const fIsoText=['370','370','350','330','330','310','310'];
const fIsoLat=[40.49,43.45,42.9,40.47,42.69,44.23,41.86];
const fIsoP=[152,153,187,216,248,318,435];
const eRhText=['75','70'];
const eRhLat=[42.63,41.9];
const eRhP=[224,367];
const fRhText=['70','75'];
const fRhLat=[41.49,42.53];
const fRhP=[233,219];

/* ---------- helpers ---------- */
const NS='http://www.w3.org/2000/svg';
const layers=document.getElementById('layers');
const defs=document.getElementById('defs');
function mk(tag,attrs,parent){
  const e=document.createElementNS(NS,tag);
  for(const k in attrs)e.setAttribute(k,attrs[k]);
  parent.appendChild(e);
  return e;
}
function group(name,parent){
  const g=mk('g',{},parent||layers);
  
  
  return g;
}
function label(parent,x,y,str,size,anchor,bold,name,extra){
  const t=mk('text',Object.assign({x:x,y:y,'font-size':size,'text-anchor':anchor,'dominant-baseline':'central','font-weight':bold?'bold':'normal'},extra||{}),parent);
  t.textContent=str;
  
  
  return t;
}
function line(parent,x1,y1,x2,y2,color,w,name,dash){
  const l=mk('line',{x1:x1,y1:y1,x2:x2,y2:y2,stroke:color,'stroke-width':w},parent);
  if(dash)l.setAttribute('stroke-dasharray',dash);
  
  
  return l;
}
function sphereGradient(id,color){
  const g=mk('radialGradient',{id:id,cx:'0.5',cy:'0.5',r:'0.55',fx:'0.62',fy:'0.34'},defs);
  mk('stop',{offset:'0','stop-color':'#fff'},g);
  mk('stop',{offset:'0.1','stop-color':'#fff','stop-opacity':'0.9'},g);
  mk('stop',{offset:'0.24','stop-color':color},g);
  mk('stop',{offset:'1','stop-color':color},g);
}
const sphereIds=['navy','blue','cyan','green','yellow','red','maroon'];
sphereIds.forEach((n,i)=>sphereGradient('sp-'+n,thetaColors[i]));
sphereGradient('sp-gray','#3c3c3c');
function clip(id,x,y,w,h){
  const c=mk('clipPath',{id:id},defs);
  mk('rect',{x:x,y:y,width:w,height:h},c);
}
function thetaBar(panel,x0,x1,y0,y1,labelX){
  const g=group(panel+'-colorbar');
  const h=(y1-y0)/thetaColors.length;
  thetaColors.forEach((c,i)=>{
    const r=mk('rect',{x:x0,y:y0+i*h,width:x1-x0,height:h+0.5,fill:c},g);
    
    
  });
  thetaLabels.forEach((v,i)=>{
    label(g,labelX,y0+(i+1)*h,String(v),30,'middle',true,'colorbar-label');
  });
}
function points(g,arr,xf,yf,sphere,name,r){
  for(let i=0;i<arr.length;i+=2){
    const c=mk('circle',{cx:xf(arr[i]),cy:yf(arr[i+1]),r:r||7.4,fill:'url(#sp-'+sphere+')'},g);
    
    
  }
}

/* ---------- 2D scatter panels ---------- */
function scatter(c){
  const g=group(c.id+'-scatter-panel');
  const xf=v=>c.x0+(c.x1-c.x0)*v/c.xMax;
  const yf=v=>c.y1-(c.y1-c.y0)*v/1000;
  clip('clip-'+c.id,c.x0,c.y0-3,c.x1-c.x0,c.y1-c.y0+3);
  const grayV=mk('rect',{x:c.x0,y:c.y0,width:xf(12)-c.x0,height:c.y1-c.y0,fill:'#c3c3c3'},g);
  
  
  const grayH=mk('rect',{x:c.x0,y:yf(62),width:c.x1-c.x0,height:c.y1-yf(62),fill:'#c3c3c3'},g);
  
  
  for(let v=c.xStep;v<c.xMax;v+=c.xStep)line(g,xf(v),c.y0,xf(v),c.y1,'#808080',2,'vertical-gridline');
  for(let v=100;v<1000;v+=100)line(g,c.x0,yf(v),c.x1,yf(v),'#808080',2,'horizontal-gridline');
  const clipG=group(c.id+'-points',g);
  clipG.setAttribute('clip-path','url(#clip-'+c.id+')');
  c.series.forEach(s=>points(clipG,s[0],xf,yf,s[1],c.id+'-point-'+s[1]));
  line(g,xf(12),c.y0,xf(12),c.y1,'#000',4.5,'water-vapor-threshold-line','13 9');
  line(g,c.x0,yf(62),c.x1+3,yf(62),'#000',4.5,'ozone-threshold-line','13 9');
  const f=mk('rect',{x:c.x0,y:c.y0,width:c.x1-c.x0,height:c.y1-c.y0,fill:'none',stroke:'#000','stroke-width':2.4},g);
  
  
  for(let v=0;v<=c.xMax;v+=c.xStep){
    const major=c.xTicks.indexOf(v)>=0;
    const len=major?11:7;
    line(g,xf(v),c.y1,xf(v),c.y1+len,'#000',2.2,'x-tick');
    line(g,xf(v),c.y0,xf(v),c.y0+len,'#000',2.2,'x-tick-top');
  }
  for(let v=0;v<=1000;v+=100){
    const major=aTicksY.indexOf(v)>=0;
    const len=major?11:7;
    line(g,c.x0,yf(v),c.x0-len,yf(v),'#000',2.2,'y-tick');
    line(g,c.x1,yf(v),c.x1-len,yf(v),'#000',2.2,'y-tick-right');
  }
  c.xTicks.forEach(v=>label(g,xf(v),c.xLabelY,String(v),c.font,'middle',true,'x-tick-label'));
  aTicksY.forEach(v=>label(g,c.yLabelX,yf(v),String(v),c.font,'end',true,'y-tick-label'));
}
scatter({id:'a',x0:183.3,x1:798.3,y0:66.6,y1:587.7,xMax:800,xStep:100,xTicks:aTicksX,xLabelY:619,yLabelX:164,font:30.5,
  series:[[aNavy,'navy'],[aCyan,'cyan'],[aBlue,'blue'],[aYellow,'yellow'],[aGreen,'green'],[aRed,'red'],[aMaroon,'maroon']]});
thetaBar('a',843,886,121.7,591,934);
scatter({id:'c',x0:176,x1:801,y0:863.5,y1:1385,xMax:50,xStep:5,xTicks:wvTicksX,xLabelY:1417.6,yLabelX:160,font:31,
  series:[[cYellow,'yellow'],[cRed,'red'],[cGreen,'green'],[cCyan,'cyan'],[cNavy,'navy'],[cBlue,'blue']]});
thetaBar('c',849,892,919,1388.7,940);
scatter({id:'d',x0:1232.4,x1:1856.7,y0:862,y1:1383,xMax:50,xStep:5,xTicks:wvTicksX,xLabelY:1415,yLabelX:1214,font:31,
  series:[[dNavy,'navy'],[dBlue,'blue'],[dCyan,'cyan'],[dGreen,'green'],[dYellow,'yellow'],[dRed,'red'],[dMaroon,'maroon']]});
thetaBar('d',1905,1948,917.6,1387,1996);

/* ---------- panel (b) 3D axes ---------- */
const corners={Bb:[1456.6,415.5],Rb:[1759.5,527],Lb:[1139,501.8],Fb:[1431.5,659.8],Bt:[1467.8,44.5],Rt:[1790.6,85.9],Lt:[1130.5,65.7],Ft:[1440,110]};
function mix(a,b,f){return [a[0]+(b[0]-a[0])*f,a[1]+(b[1]-a[1])*f];}
function project(oz,wv,th){
  const s=oz/1000;
  const raw=wv/800;
  const u=0.85*raw/(1-0.15*raw);
  const t=(th-290)/90;
  const bottom=mix(mix(corners.Bb,corners.Rb,s),mix(corners.Lb,corners.Fb,s),u);
  const top=mix(mix(corners.Bt,corners.Rt,s),mix(corners.Lt,corners.Ft,s),u);
  return mix(bottom,top,t);
}
function seg3(g,a,b,color,w,name){
  const p=project(a[0],a[1],a[2]);
  const q=project(b[0],b[1],b[2]);
  return line(g,p[0],p[1],q[0],q[1],color,w,name);
}
(function(){
  const g=group('b-3d-panel');
  const grid='#8a8a8a';
  for(let w=0;w<=800;w+=100){
    seg3(g,[0,w,290],[0,w,380],grid,1.5,'left-wall-gridline');
    seg3(g,[0,w,290],[1000,w,290],grid,1.5,'floor-gridline');
  }
  for(let o=0;o<=1000;o+=100){
    seg3(g,[o,0,290],[o,0,380],grid,1.5,'right-wall-gridline');
    seg3(g,[o,0,290],[o,800,290],grid,1.5,'floor-gridline');
  }
  for(let th=290;th<=380;th+=10){
    seg3(g,[0,0,th],[0,800,th],grid,1.5,'left-wall-gridline');
    seg3(g,[0,0,th],[1000,0,th],grid,1.5,'right-wall-gridline');
  }
  seg3(g,[0,800,290],[1000,800,290],'#000',2.4,'ozone-axis-line');
  seg3(g,[1000,800,290],[1000,0,290],'#000',2.4,'water-axis-line');
  seg3(g,[1000,0,290],[1000,0,380],'#000',2.4,'theta-axis-line');
  for(let o=0;o<=1000;o+=100){
    const p=project(o,800,290);
    line(g,p[0],p[1],p[0]-9,p[1]+4,'#000',2,'ozone-tick');
  }
  for(let w=0;w<=800;w+=100){
    const p=project(1000,w,290);
    line(g,p[0],p[1],p[0]+8,p[1]+5,'#000',2,'water-tick');
  }
  for(let th=290;th<=380;th+=10){
    const p=project(1000,0,th);
    line(g,p[0],p[1],p[0]+(bThetaTicks.indexOf(th)>=0?10:6),p[1],'#000',2,'theta-tick');
  }
  bOzoneTicks.forEach(v=>{
    const p=project(v,800,290);
    const x=p[0]+(v===0?-16:-36),y=p[1]+(v===0?5:8);
    label(g,x,y,String(v),22,'middle',true,'ozone-tick-label',{transform:'rotate(-22 '+x+' '+y+')'});
  });
  bWaterTicks.forEach(v=>{
    const p=project(1000,v,290);
    const x=p[0]+(v===0?15:33),y=p[1]+(v===0?5:10);
    label(g,x,y,String(v),22,'middle',true,'water-tick-label',{transform:'rotate(30 '+x+' '+y+')'});
  });
  bThetaTicks.forEach(v=>{
    const p=project(1000,0,v);
    const x=p[0]+31,y=p[1]+12;
    label(g,x,y,String(v),22,'middle',true,'theta-tick-label',{transform:'rotate(5 '+x+' '+y+')'});
  });
  function dot3(pt,sphere,name){
    const c=mk('circle',{cx:pt[0],cy:pt[1],r:7.4,fill:'url(#sp-'+sphere+')'},g);
    
    
  }
  for(let i=0;i<bStratOzoneTheta.length;i+=2)dot3(project(bStratOzoneTheta[i],bLowWater,bStratOzoneTheta[i+1]),'gray','stratospheric-branch-point');
  for(let i=0;i<bLowerOzoneTheta.length;i+=2)dot3(project(bLowerOzoneTheta[i],bLowWater,bLowerOzoneTheta[i+1]),'gray','tropospheric-gray-point');
  for(let i=0;i<bBranchWaterTheta.length;i+=2)dot3(project(bBranchOzone,bBranchWaterTheta[i],bBranchWaterTheta[i+1]),'gray','anticyclonic-gray-point');
  for(let i=0;i<bCyanOzoneTheta.length;i+=2)dot3(project(bCyanOzoneTheta[i],bLowWater,bCyanOzoneTheta[i+1]),'cyan','b-point-cyan');
  for(let i=0;i<bBlueOzoneTheta.length;i+=2)dot3(project(bBlueOzoneTheta[i],bLowWater,bBlueOzoneTheta[i+1]),'blue','b-point-blue');
  [[bGreenSamples,'green'],[bYellowSamples,'yellow'],[bRedSamples,'red'],[bMaroonSamples,'maroon']].forEach(s=>{
    for(let i=0;i<s[0].length;i+=3)dot3(project(s[0][i],s[0][i+1],s[0][i+2]),s[1],'b-point-'+s[1]);
  });
})();
thetaBar('b',1907,1950.6,123,593,1997.6);

/* ---------- curtains ---------- */
const yP=p=>1682.8+946*Math.log10(p/150);
function vmrColor(v){
  if(v===-1)return '#ffffff';
  if(v===-2)return '#d4f6d0';
  let i=0;
  while(i<cmapV.length-2&&v>cmapV[i+1])i++;
  const f=Math.max(0,Math.min(1,(Math.log(v)-Math.log(cmapV[i]))/(Math.log(cmapV[i+1])-Math.log(cmapV[i]))));
  const r=Math.round(cmapR[i]+(cmapR[i+1]-cmapR[i])*f);
  const g=Math.round(cmapG[i]+(cmapG[i+1]-cmapG[i])*f);
  const b=Math.round(cmapB[i]+(cmapB[i+1]-cmapB[i])*f);
  return 'rgb('+r+','+g+','+b+')';
}
function polyline(g,arr,xf,color,w,dash,name){
  let d='';
  for(let i=0;i<arr.length;i+=2)d+=(i?'L':'M')+xf(arr[i]).toFixed(1)+' '+yP(arr[i+1]).toFixed(1);
  const p=mk('path',{d:d,fill:'none',stroke:color,'stroke-width':w,'stroke-linejoin':'round'},g);
  if(dash)p.setAttribute('stroke-dasharray',dash);
  
  
}
function curtain(c){
  const g=group(c.id+'-curtain-panel');
  const xf=c.xf;
  const x0=Math.min(xf(40),xf(45)),x1=Math.max(xf(40),xf(45));
  const y0=1654.3,y1=2134.4;
  clip('clip-'+c.id,x0,y0,x1-x0,y1-y0);
  const bg=mk('rect',{x:x0,y:y0,width:x1-x0,height:y1-y0,fill:'#c3c3c3'},g);
  
  
  const inner=group(c.id+'-plot-content',g);
  inner.setAttribute('clip-path','url(#clip-'+c.id+')');
  c.latTicks.forEach(v=>line(inner,xf(v),y0,xf(v),y1,'#555',1.3,'latitude-gridline','2 3'));
  pTicks.forEach(v=>line(inner,x0,yP(v),x1,yP(v),'#555',1.3,'pressure-gridline','2 3'));
  c.rows.forEach((row,ri)=>{
    const top=yP(c.levels[ri]),bot=yP(c.levels[ri+1])+0.6;
    const tilt=3;
    for(let i=0;i<row.length-2;i+=2){
      const v=row[i+1];
      if(v===0)continue;
      const xa=Math.min(xf(row[i]),xf(row[i+2])),xb=Math.max(xf(row[i]),xf(row[i+2]));
      const r=mk('polygon',{points:(xa-tilt)+','+top+' '+(xb-tilt)+','+top+' '+(xb+tilt)+','+bot+' '+(xa+tilt)+','+bot,fill:vmrColor(v)},inner);
      
      
    }
  });
  for(let i=0;i<c.diamonds.length;i+=2){
    const x=xf(c.diamonds[i]),y=yP(c.diamonds[i+1]);
    const d=mk('path',{d:'M'+x+' '+(y-9)+'L'+(x+8.5)+' '+y+'L'+x+' '+(y+9)+'L'+(x-8.5)+' '+y+'Z',fill:'none',stroke:'#fff','stroke-width':2.2},inner);
    
    
  }
  c.dashed.forEach(a=>polyline(inner,a,xf,'#404040',3.2,'11 7','dashed-isentrope'));
  c.solid.forEach(a=>polyline(inner,a,xf,'#404040',3.2,null,'solid-isentrope'));
  if(c.edge){
    polyline(inner,c.edge,xf,'#404040',4.5,null,'flight-track-edge');
    polyline(inner,c.edgeLower,xf,'#404040',3.2,'11 7','flight-track-edge-lower');
  }
  polyline(inner,c.tropopause,xf,'#000',4.8,null,'flight-altitude-line');
  c.contours.forEach(a=>polyline(inner,a,xf,'#ff00ff',4.2,null,'relative-humidity-contour'));
  c.isoText.forEach((t,i)=>label(inner,xf(c.isoLat[i]),yP(c.isoP[i]),t,29,'middle',true,'isentrope-label',{style:'fill:#404040'}));
  c.rhText.forEach((t,i)=>label(inner,xf(c.rhLat[i]),yP(c.rhP[i]),t,29,'middle',true,'contour-label',{style:'fill:#ff00ff'}));
  const f=mk('rect',{x:x0,y:y0,width:x1-x0,height:y1-y0,fill:'none',stroke:'#000','stroke-width':2.4},g);
  
  
  for(let v=40;v<=45;v+=0.5){
    const len=v%1===0?10:6;
    line(g,xf(v),y1,xf(v),y1+len,'#000',2,'latitude-tick');
  }
  c.latTicks.forEach(v=>label(g,xf(v),2164,String(v),28,'middle',true,'latitude-tick-label'));
  c.kmTicks.forEach(v=>{
    line(g,c.kmf(v),y0,c.kmf(v),y0-10,'#000',2,'distance-tick');
    const m=c.kmf(v-50);
    if(m>x0)line(g,m,y0,m,y0-6,'#000',2,'distance-minor-tick');
    const n=c.kmf(v+50);
    if(n<x1)line(g,n,y0,n,y0-6,'#000',2,'distance-minor-tick');
    label(g,c.kmf(v),1623,String(v),28,'middle',true,'distance-tick-label');
  });
  for(let p=150;p<=450;p+=10){
    const len=p%50===0?10:5;
    line(g,x0,yP(p),x0-len,yP(p),'#000',1.8,'pressure-tick');
    line(g,x1,yP(p),x1-len,yP(p),'#000',1.8,'pressure-tick-right');
  }
  pTicks.forEach(v=>label(g,c.pLabelX,yP(v),String(v),28,'end',true,'pressure-tick-label'));
  /* colour bar */
  const bar=group(c.id+'-colorbar',g);
  const top=1713,bottom=2125.7,firstLabel=1723,gap=39.3;
  const steps=40;
  const seg=(bottom-top-2*(firstLabel-top))/steps;
  const capTop=mk('rect',{x:c.barX,y:top,width:c.barW,height:firstLabel-top+0.5,fill:'#000080'},bar);
  
  
  for(let i=0;i<steps;i++){
    const v=5*Math.pow(40,(i+0.5)/steps);
    const r=mk('rect',{x:c.barX,y:firstLabel+i*seg,width:c.barW,height:seg+0.5,fill:vmrColor(v)},bar);
    
    
  }
  const capBot=mk('rect',{x:c.barX,y:bottom-(firstLabel-top),width:c.barW,height:firstLabel-top,fill:'#800000'},bar);
  
  
  vmrLabels.forEach((t,i)=>label(bar,c.barLabelX,firstLabel+i*gap,t,24,'middle',true,'colorbar-label'));
}
curtain({id:'e',xf:lat=>176+(45-lat)*129.3,kmf:km=>266+(km-500)*1.045,latTicks:eLatTicks,kmTicks:eKmTicks,pLabelX:160,levels:eLevels,rows:eRows,diamonds:eDiamonds,
  dashed:eDashed,solid:[eSolid370,eSolid350,eSolid330,eSolid310],edge:eFlightEdge,edgeLower:eFlightEdgeLower,tropopause:eTropopause,contours:[eContour70,eContour75],
  isoText:eIsoText,isoLat:eIsoLat,isoP:eIsoP,rhText:eRhText,rhLat:eRhLat,rhP:eRhP,barX:855,barW:34,barLabelX:937});
curtain({id:'f',xf:lat=>1231.7+(lat-40)*129.4,kmf:km=>1333+(km-2700)*1.12,latTicks:fLatTicks,kmTicks:fKmTicks,pLabelX:1217,levels:fLevels,rows:fRows,diamonds:fDiamonds,
  dashed:fDashed,solid:[fSolid370,fSolid350,fSolid330,fSolid310],tropopause:fTropopause,contours:[fContour70,fContour75],
  isoText:fIsoText,isoLat:fIsoLat,isoP:fIsoP,rhText:fRhText,rhLat:fRhLat,rhP:fRhP,barX:1910,barW:35,barLabelX:1992});
</script>
</body>
</html>
